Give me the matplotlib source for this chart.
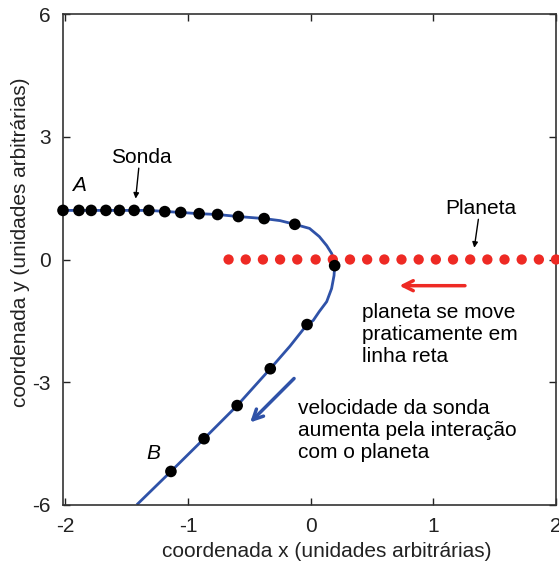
import matplotlib
matplotlib.use("Agg")
import matplotlib.pyplot as plt

plt.rcParams['font.family'] = ['Liberation Sans', 'DejaVu Sans']
plt.rcParams['axes.unicode_minus'] = False

# probe positions (black dots)
sonda_x = [-2.02, -1.89, -1.79, -1.67, -1.56, -1.44, -1.32, -1.19, -1.06, -0.91,
           -0.76, -0.59, -0.38, -0.13, 0.195, -0.03, -0.33, -0.60, -0.87, -1.14]
sonda_y = [1.20, 1.20, 1.20, 1.20, 1.20, 1.20, 1.20, 1.17, 1.15, 1.12,
           1.10, 1.05, 1.00, 0.86, -0.15, -1.59, -2.67, -3.57, -4.38, -5.18]

# trajectory line (blue)
traj_x = [-2.02, -1.67, -1.32, -1.06, -0.91, -0.76, -0.59, -0.38, -0.25, -0.13,
          -0.01, 0.07, 0.13, 0.17, 0.19, 0.195, 0.19, 0.17, 0.13, 0.07,
          0.02, -0.03, -0.17, -0.33, -0.60, -0.87, -1.14, -1.41]
traj_y = [1.20, 1.20, 1.20, 1.15, 1.12, 1.10, 1.05, 1.00, 0.95, 0.86,
          0.76, 0.56, 0.34, 0.15, -0.02, -0.15, -0.39, -0.71, -1.03, -1.27,
          -1.49, -1.59, -2.12, -2.67, -3.57, -4.38, -5.18, -5.97]

# planet positions (red dots)
planeta_x = [-0.67, -0.53, -0.39, -0.25, -0.11, 0.04, 0.18, 0.32, 0.46, 0.60,
             0.74, 0.88, 1.02, 1.16, 1.30, 1.44, 1.58, 1.72, 1.86, 2.00]
planeta_y = [0.0] * len(planeta_x)

blue = '#2f52a8'
red = '#ee2a24'
fs = 15

fig = plt.figure(figsize=(5.59, 5.65), dpi=100)
ax = fig.add_axes([0.1127, 0.1062, 0.882, 0.869])

ax.plot(traj_x, traj_y, color=blue, lw=2, zorder=2, solid_joinstyle='round')
ax.scatter(planeta_x, planeta_y, s=55, color=red, edgecolors='none', zorder=3, clip_on=False)
ax.scatter(sonda_x, sonda_y, s=70, color='black', edgecolors='none', zorder=4, clip_on=False)

ax.set_xlim(-2.02, 2.0)
ax.set_ylim(-6, 6)
ax.set_xticks([-2, -1, 0, 1, 2])
ax.set_yticks([-6, -3, 0, 3, 6])
ax.tick_params(direction='in', top=True, right=True, length=5, width=1,
               labelsize=fs, colors='#222222', pad=9)
for s in ax.spines.values():
    s.set_color('#333333')
    s.set_linewidth(1.2)

ax.set_xlabel('coordenada x (unidades arbitrárias)', fontsize=fs, color='#222222')
ax.set_ylabel('coordenada y (unidades arbitrárias)', fontsize=fs, color='#222222')
ax.xaxis.label.set_va('center')
ax.yaxis.label.set_va('center')
ax.xaxis.set_label_coords(0.535, -0.094)
ax.yaxis.set_label_coords(-0.087, 0.536)

# annotations
ax.text(-1.38, 2.50, 'Sonda', fontsize=fs, ha='center', va='center')
ax.annotate('', xy=(-1.43, 1.42), xytext=(-1.40, 2.30),
            arrowprops=dict(arrowstyle='-|>', color='black', lw=1, mutation_scale=8))
ax.text(-1.89, 1.81, 'A', fontsize=fs, style='italic', ha='center', va='center')
ax.text(-1.28, -4.74, 'B', fontsize=fs, style='italic', ha='center', va='center')

ax.text(1.39, 1.25, 'Planeta', fontsize=fs, ha='center', va='center')
ax.annotate('', xy=(1.33, 0.22), xytext=(1.37, 1.05),
            arrowprops=dict(arrowstyle='-|>', color='black', lw=1, mutation_scale=8))

ax.annotate('', xy=(0.70, -0.64), xytext=(1.28, -0.64),
            arrowprops=dict(arrowstyle='->', color=red, lw=2.5, mutation_scale=18))
ax.text(0.42, -1.84, 'planeta se move\npraticamente em\nlinha reta', fontsize=fs,
        ha='left', va='center', linespacing=1.2)

ax.annotate('', xy=(-0.51, -4.03), xytext=(-0.12, -2.86),
            arrowprops=dict(arrowstyle='->', color=blue, lw=2.5, mutation_scale=18))
ax.text(-0.10, -4.18, 'velocidade da sonda\naumenta pela interação\ncom o planeta', fontsize=fs,
        ha='left', va='center', linespacing=1.2)

fig.savefig('out.png', dpi=100)
